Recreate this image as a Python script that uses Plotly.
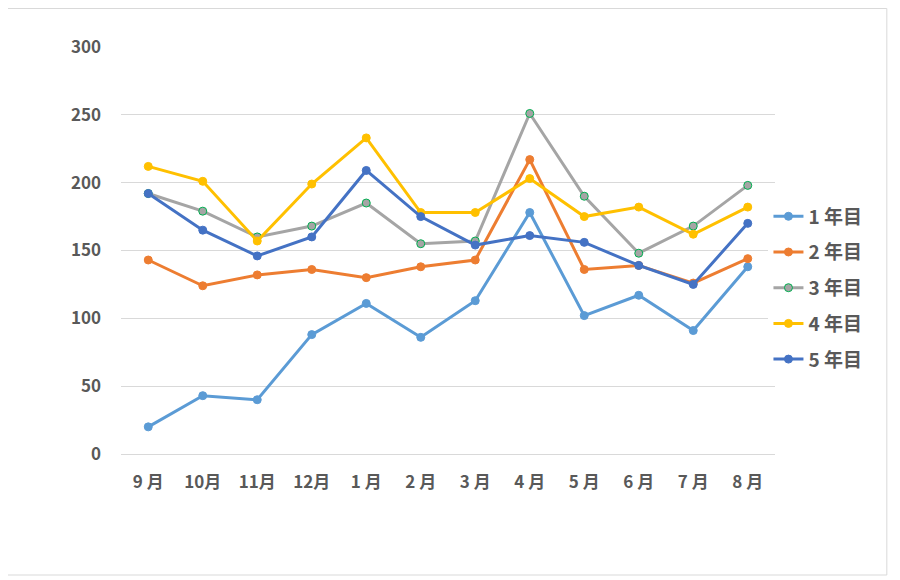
import plotly.graph_objects as go

months = ["9 月", "10月", "11月", "12月", "1 月", "2 月", "3 月", "4 月", "5 月", "6 月", "7 月", "8 月"]
series_names = ["1 年目", "2 年目", "3 年目", "4 年目", "5 年目"]
y1 = [20, 43, 40, 88, 111, 86, 113, 178, 102, 117, 91, 138]
y2 = [143, 124, 132, 136, 130, 138, 143, 217, 136, 139, 126, 144]
y3 = [192, 179, 160, 168, 185, 155, 157, 251, 190, 148, 168, 198]
y4 = [212, 201, 157, 199, 233, 178, 178, 203, 175, 182, 162, 182]
y5 = [192, 165, 146, 160, 209, 175, 154, 161, 156, 139, 125, 170]
y_ticks = [0, 50, 100, 150, 200, 250, 300]

colors = ["#5B9BD5", "#ED7D31", "#A5A5A5", "#FFC000", "#4472C4"]
marker_lines = ["#5B9BD5", "#ED7D31", "#00B050", "#FFC000", "#4472C4"]

font_family = "Noto Sans CJK JP, Noto Sans, sans-serif"
text_color = "#595959"

fig = go.Figure()
for name, ys, c, mc in zip(series_names, [y1, y2, y3, y4, y5], colors, marker_lines):
    fig.add_trace(go.Scatter(
        x=months, y=ys, name=name, mode="lines+markers",
        line=dict(color=c, width=3),
        marker=dict(size=8, color=c, line=dict(color=mc, width=1)),
        legendgroup=name,
    ))

fig.update_layout(
    width=900, height=580,
    margin=dict(l=113, r=133, t=39, b=134),
    paper_bgcolor="white", plot_bgcolor="white",
    font=dict(family=font_family, color=text_color),
    showlegend=True,
    legend=dict(
        x=0.99, y=0.408, xanchor="left", yanchor="middle",
        font=dict(size=19, color=text_color, family=font_family, weight="bold"),
        tracegroupgap=8, itemwidth=30,
    ),
    xaxis=dict(
        type="category", categoryorder="array", categoryarray=months,
        showgrid=False, showline=True, linecolor="#D9D9D9", linewidth=1,
        ticks="", tickfont=dict(size=17, color=text_color, family=font_family, weight="bold"),
        ticklabelstandoff=13, range=[-0.5, 11.5],
    ),
    yaxis=dict(
        range=[0, 300], tickvals=y_ticks, showgrid=True, gridcolor="#D9D9D9", gridwidth=1,
        zeroline=False, showline=False, ticks="",
        tickfont=dict(size=17, color=text_color, family=font_family, weight="bold"),
        ticklabelstandoff=19,
    ),
    shapes=[dict(type="rect", xref="paper", yref="paper",
                 x0=-0.1758, x1=1.171, y0=-0.2973, y1=1.0946,
                 line=dict(color="#D9D9D9", width=1), fillcolor="rgba(0,0,0,0)")],
)

fig.write_html("out.html")
